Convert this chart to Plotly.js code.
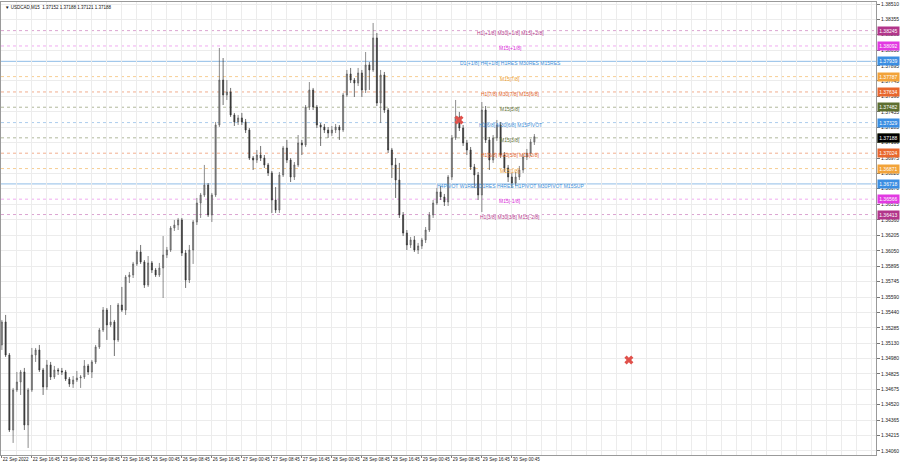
<!DOCTYPE html>
<html>
<head>
<meta charset="utf-8">
<script src="https://cdn.plot.ly/plotly-3.0.1.min.js"></script>
<style>html,body{margin:0;padding:0;background:#fff;}#chart{width:900px;height:468px;}</style>
</head>
<body>
<div id="chart"></div>
<script>
// ---- data (USDCAD, hourly aggregation of the M15 chart) ----
var openP = [1.35114,1.35343,1.35014,1.34267,1.34666,1.34745,1.34845,1.34317,1.34666,1.35014,
1.35064,1.34865,1.34696,1.34915,1.34795,1.34865,1.34855,1.34845,1.34775,1.34725,
1.34765,1.34785,1.34795,1.34905,1.34845,1.34945,1.35094,1.35263,1.35462,1.35313,
1.35343,1.35164,1.35512,1.35462,1.35791,1.35811,1.35921,1.36040,1.35941,1.35711,
1.35931,1.35861,1.35811,1.35881,1.36010,1.36060,1.36279,1.36309,1.36359,1.36030,
1.35761,1.36060,1.36339,1.36528,1.36608,1.36707,1.36409,1.36608,1.37305,1.37753,
1.37604,1.37634,1.37405,1.37335,1.37375,1.37335,1.37255,1.36976,1.36956,1.37006,
1.36976,1.36907,1.36827,1.36558,1.36458,1.36807,1.37076,1.36956,1.36787,1.36907,
1.37126,1.37106,1.37484,1.37654,1.37484,1.37305,1.37285,1.37255,1.37225,1.37255,
1.37285,1.37255,1.37604,1.37813,1.37753,1.37723,1.37823,1.37654,1.37903,1.37853,
1.38172,1.37524,1.37803,1.37454,1.37056,1.36907,1.36757,1.36409,1.36229,1.36110,
1.36160,1.36060,1.36100,1.36160,1.36259,1.36409,1.36528,1.36638,1.36588,1.36538,
1.36787,1.37176,1.37385,1.37275,1.37126,1.37056,1.36887,1.36807,1.36608,1.37454,
1.37156,1.36956,1.37176,1.37305,1.37006,1.36877,1.36787,1.36727,1.36787,1.36857,
1.36986,1.37026,1.37136];
var highP = [1.35363,1.35413,1.35034,1.34686,1.34845,1.34865,1.34885,1.34686,1.35084,1.35084,
1.35114,1.34885,1.34964,1.34945,1.34905,1.34885,1.34885,1.34865,1.34795,1.34805,
1.34855,1.34815,1.34964,1.34925,1.34964,1.35114,1.35283,1.35492,1.35482,1.35512,
1.35363,1.35532,1.35692,1.35811,1.35841,1.35941,1.36060,1.36110,1.35960,1.36000,
1.35950,1.35881,1.35931,1.36199,1.36090,1.36299,1.36359,1.36379,1.36379,1.36060,
1.36110,1.36359,1.36578,1.36628,1.36907,1.36727,1.36628,1.37335,1.38072,1.37972,
1.37753,1.37674,1.37425,1.37405,1.37425,1.37365,1.37275,1.36996,1.37056,1.37096,
1.37006,1.36927,1.36847,1.36687,1.36837,1.37096,1.37156,1.36976,1.36936,1.37205,
1.37156,1.37504,1.37733,1.37674,1.37504,1.37325,1.37315,1.37285,1.37295,1.37315,
1.37305,1.37624,1.37853,1.37873,1.37773,1.37873,1.37853,1.38032,1.37932,1.38321,
1.38221,1.37853,1.37833,1.37474,1.37076,1.36976,1.36927,1.36438,1.36259,1.36190,
1.36199,1.36130,1.36180,1.36289,1.36438,1.36558,1.36678,1.36697,1.36618,1.36807,
1.37205,1.37554,1.37435,1.37305,1.37156,1.37086,1.36917,1.36837,1.37534,1.37494,
1.37186,1.37205,1.37355,1.37335,1.37036,1.36907,1.36827,1.36837,1.36897,1.37016,
1.37066,1.37166,1.37215];
var lowP = [1.35064,1.34994,1.34247,1.34138,1.34646,1.34616,1.34267,1.34088,1.34646,1.34945,
1.34845,1.34616,1.34666,1.34765,1.34775,1.34815,1.34815,1.34755,1.34696,1.34686,
1.34745,1.34686,1.34775,1.34815,1.34785,1.34925,1.35074,1.35243,1.35164,1.35293,
1.35004,1.35144,1.35443,1.35413,1.35731,1.35781,1.35901,1.35921,1.35682,1.35692,
1.35831,1.35791,1.35791,1.35582,1.35980,1.36040,1.36249,1.36259,1.36000,1.35682,
1.35731,1.35921,1.36309,1.36379,1.36588,1.36389,1.36339,1.36588,1.37285,1.37504,
1.37554,1.37385,1.37295,1.37305,1.37305,1.37225,1.36956,1.36857,1.36927,1.36946,
1.36877,1.36797,1.36429,1.36429,1.36429,1.36787,1.36927,1.36737,1.36757,1.36887,
1.37006,1.37086,1.37454,1.37454,1.37275,1.37096,1.37225,1.37176,1.37196,1.37225,
1.37156,1.37235,1.37584,1.37723,1.37584,1.37693,1.37584,1.37624,1.37654,1.37833,
1.37494,1.37325,1.37425,1.37026,1.36777,1.36578,1.36379,1.36199,1.36060,1.36080,
1.36040,1.36020,1.36070,1.36130,1.36239,1.36379,1.36508,1.36558,1.36498,1.36498,
1.36757,1.37156,1.37245,1.37096,1.37006,1.36857,1.36678,1.36558,1.36438,1.37126,
1.36857,1.36927,1.37146,1.36976,1.36837,1.36737,1.36678,1.36697,1.36757,1.36827,
1.36956,1.36996,1.37106];
var closeP = [1.35343,1.35014,1.34267,1.34666,1.34745,1.34845,1.34317,1.34666,1.35014,1.35064,
1.34865,1.34696,1.34915,1.34795,1.34865,1.34855,1.34845,1.34775,1.34725,1.34765,
1.34785,1.34795,1.34905,1.34845,1.34945,1.35094,1.35263,1.35462,1.35313,1.35343,
1.35164,1.35512,1.35462,1.35791,1.35811,1.35921,1.36040,1.35941,1.35711,1.35931,
1.35861,1.35811,1.35881,1.36010,1.36060,1.36279,1.36309,1.36359,1.36030,1.35761,
1.36060,1.36339,1.36528,1.36608,1.36707,1.36409,1.36608,1.37305,1.37753,1.37604,
1.37634,1.37405,1.37335,1.37375,1.37335,1.37255,1.36976,1.36956,1.37006,1.36976,
1.36907,1.36827,1.36558,1.36458,1.36807,1.37076,1.36956,1.36787,1.36907,1.37126,
1.37106,1.37484,1.37654,1.37484,1.37305,1.37285,1.37255,1.37225,1.37255,1.37285,
1.37255,1.37604,1.37813,1.37753,1.37723,1.37823,1.37654,1.37903,1.37853,1.38172,
1.37524,1.37803,1.37454,1.37056,1.36907,1.36757,1.36409,1.36229,1.36110,1.36160,
1.36060,1.36100,1.36160,1.36259,1.36409,1.36528,1.36638,1.36588,1.36538,1.36787,
1.37176,1.37385,1.37275,1.37126,1.37056,1.36887,1.36807,1.36608,1.37454,1.37156,
1.36956,1.37176,1.37305,1.37006,1.36877,1.36787,1.36727,1.36787,1.36857,1.36986,
1.37026,1.37136,1.37188];

var timeLabels = ["22 Sep 2022","22 Sep 16:45","23 Sep 00:45","23 Sep 08:45","23 Sep 16:45",
"26 Sep 00:45","26 Sep 08:45","26 Sep 16:45","27 Sep 00:45","27 Sep 08:45","27 Sep 16:45",
"28 Sep 00:45","28 Sep 08:45","28 Sep 16:45","29 Sep 00:45","29 Sep 08:45","29 Sep 16:45","30 Sep 00:45"];

var priceTicks = [1.38510,1.38355,1.38205,1.38050,1.37895,1.37745,1.37590,1.37435,1.37285,1.37130,
1.36975,1.36820,1.36670,1.36515,1.36360,1.36205,1.36050,1.35895,1.35745,1.35590,
1.35440,1.35285,1.35130,1.34980,1.34825,1.34675,1.34520,1.34365,1.34215,1.34060];

var levelPrices = [1.38245,1.38092,1.37939,1.37787,1.37634,1.37482,1.37329,1.37177,1.37024,1.36871,1.36718,1.36566,1.36413];
var levelTexts = ["H1[+1/8] M30[+1/8] M15[+2/8]","M15[+1/8]","D1[+1/8] H4[+1/8] H1RES M30RES M15RES",
"M15[7/8]","H1[7/8] M30[7/8] M15[6/8]","M15[5/8]","H1[6/8] M30[6/8] M15PIVOT","M15[3/8]",
"H1[5/8] M30[5/8] M15[2/8]","M15[1/8]","H4PIVOT W1RES D1RES H4RES H1PIVOT M30PIVOT M15SUP",
"M15[-1/8]","H1[3/8] M30[3/8] M15[-2/8]"];

var headerText = "USDCAD,M15";
var lastBar = [1.37152,1.37188,1.37121,1.37188];   // O H L C of the current bar
var bidPrice = 1.37188;

var markBar = [121.9,167.2];
var markPrice = [1.37355,1.34964];

// ---- styles ----
var styleOf = {
  purple:{box:'#b2358a', text:'#b5378c', line:'rgba(190,90,170,0.55)', dash:'dot'},
  magenta:{box:'#e23ae2', text:'#d82ed8', line:'rgba(225,90,225,0.5)', dash:'dot'},
  blue:{box:'#3b8ee2', text:'#3f8fd8', line:'rgba(70,145,215,0.6)', dash:'solid'},
  blued:{box:'#3b8ee2', text:'#3f8fd8', line:'rgba(70,145,215,0.45)', dash:'dot'},
  orange:{box:'#f2a33a', text:'#eea030', line:'rgba(240,165,60,0.55)', dash:'dot'},
  ored:{box:'#e8672d', text:'#e0622a', line:'rgba(230,105,50,0.55)', dash:'dot'},
  olive:{box:'#5d6e2f', text:'#5e6f33', line:'rgba(100,115,60,0.5)', dash:'dot'}
};
var levelStyle = ['purple','magenta','blue','orange','ored','olive','blued','olive','ored','orange','blue','magenta','purple'];

var FONT = 'Liberation Sans, Arial, sans-serif';
var fsLevel = 5.0, fsAxisY = 5.0, fsAxisX = 4.5, fsHead = 4.5;

var traces = [{
  type:'candlestick',
  x: closeP.map(function(_,i){return i;}),
  open: openP, high: highP, low: lowP, close: closeP,
  increasing:{line:{color:'#5a5a5a', width:0.7}, fillcolor:'#8c8c8c'},
  decreasing:{line:{color:'#333333', width:0.7}, fillcolor:'#333333'},
  whiskerwidth:0,
  hoverinfo:'skip'
},{
  type:'scatter', mode:'markers', x: markBar, y: markPrice,
  marker:{symbol:'x', size:8, color:'#e0514b', line:{width:0}},
  hoverinfo:'skip'
}];

var shapes = [];
var annotations = [];
levelPrices.forEach(function(p,k){
  var st = styleOf[levelStyle[k]];
  shapes.push({type:'line', xref:'paper', x0:0, x1:1, yref:'y', y0:p, y1:p,
    line:{color:st.line, width:1, dash:st.dash}, layer:'below'});
  annotations.push({xref:'x', x:135.5, yref:'y', y:p, yshift:-2, text:levelTexts[k],
    showarrow:false, xanchor:'center', yanchor:'middle',
    font:{family:FONT, size:fsLevel, color:st.text}});
});
// right-side price boxes
levelPrices.forEach(function(p,k){
  var st = styleOf[levelStyle[k]];
  annotations.push({xref:'paper', x:1, xshift:1, yref:'y', y:p, text:p.toFixed(5),
    showarrow:false, xanchor:'left', yanchor:'middle', bgcolor:st.box, borderpad:1.2,
    font:{family:FONT, size:fsAxisY, color:'#ffffff'}});
});
annotations.push({xref:'paper', x:1, xshift:1, yref:'y', y:bidPrice, yshift:-1, text:bidPrice.toFixed(5),
  showarrow:false, xanchor:'left', yanchor:'middle', bgcolor:'#000000', borderpad:1.2,
  font:{family:FONT, size:fsAxisY, color:'#ffffff'}});
// header
annotations.push({xref:'paper', x:0, xshift:2, yref:'paper', y:1, yshift:-1,
  text:'\u25BC ' + headerText + '\u00a0\u00a0' + lastBar.map(function(v){return v.toFixed(5);}).join(' '),
  showarrow:false, xanchor:'left', yanchor:'top', font:{family:FONT, size:fsHead, color:'#111'}});

var layout = {
  width:900, height:468,
  margin:{l:1, r:24, t:2, b:13, pad:0},
  paper_bgcolor:'#ffffff', plot_bgcolor:'#ffffff',
  showlegend:false,
  boxgap:0.6,
  xaxis:{
    range:[-0.2333, 233.1],
    tickmode:'array',
    tickvals: timeLabels.map(function(_,i){return i*8;}),
    ticktext: timeLabels,
    tickangle:0,
    ticks:'outside', ticklen:2, tickcolor:'#777', tickwidth:1,
    ticklabelposition:'outside right',
    tickfont:{family:FONT, size:fsAxisX, color:'#222'},
    showgrid:true, gridcolor:'#ececec', gridwidth:1,
    minor:{tickmode:'linear', tick0:0, dtick:4, showgrid:true, gridcolor:'#ececec', ticks:''},
    showline:true, linecolor:'#9a9a9a', linewidth:1, mirror:true,
    zeroline:false, rangeslider:{visible:false}, fixedrange:true
  },
  yaxis:{
    side:'right',
    range:[1.34018, 1.38530],
    tickmode:'array',
    tickvals: priceTicks,
    ticktext: priceTicks.map(function(v){return v.toFixed(5);}),
    ticks:'outside', ticklen:3, tickcolor:'#777',
    tickfont:{family:FONT, size:fsAxisY, color:'#222'},
    showgrid:true, gridcolor:'#ececec', gridwidth:1,
    showline:true, linecolor:'#9a9a9a', linewidth:1, mirror:true,
    zeroline:false, fixedrange:true
  },
  shapes:shapes,
  annotations:annotations
};

Plotly.newPlot('chart', traces, layout, {staticPlot:true, displayModeBar:false});
</script>
</body>
</html>
